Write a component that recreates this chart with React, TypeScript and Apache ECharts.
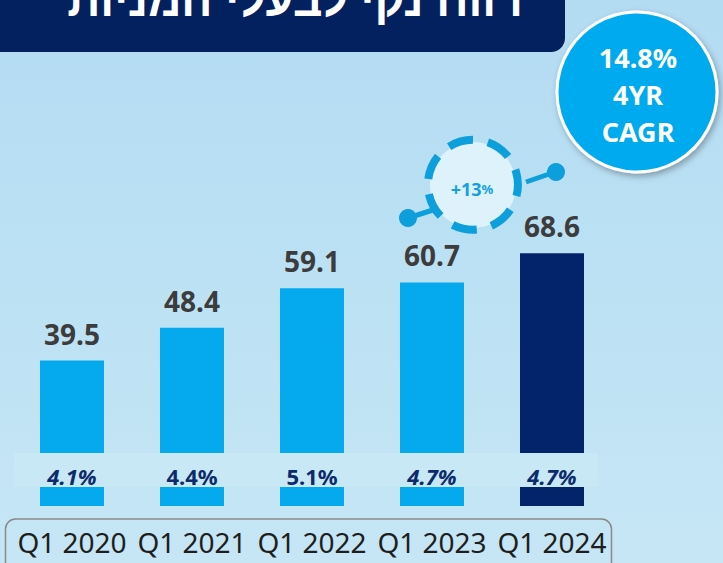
import React, { useEffect, useRef } from "react";
import * as echarts from "echarts";

const categories = ["Q1 2020", "Q1 2021", "Q1 2022", "Q1 2023", "Q1 2024"];
const netProfit = [39.5, 48.4, 59.1, 60.7, 68.6];
const roeLabels = ["4.1%", "4.4%", "5.1%", "4.7%", "4.7%"];
const roeItalic = [true, false, false, true, true];
const highlightIndex = 4;
const titleText = "רווח נקי לבעלי המניות";
const cagrLines = ["14.8%", "4YR", "CAGR"];
const growthLabel = "+13";

const LIGHT = "#05aaee";
const NAVY = "#03236a";
const FONT = "'Noto Sans', 'DejaVu Sans', sans-serif";

export default function App() {
  const ref = useRef<HTMLDivElement>(null);
  useEffect(() => {
    if (!ref.current) return;
    const chart = echarts.init(ref.current, null, { renderer: "svg" });
    chart.setOption({
      animation: false,
      grid: { left: 12, right: 111, top: 64, bottom: 57 },
      xAxis: {
        type: "category",
        data: categories,
        axisLine: { show: false },
        axisTick: { show: false },
        axisLabel: {
          interval: 0,
          hideOverlap: false,
          fontSize: 28,
          color: "#1e1e1e",
          fontFamily: FONT,
          margin: 22,
        },
      },
      yAxis: { type: "value", min: 0, max: 120, show: false, splitLine: { show: false } },
      series: [
        {
          type: "bar",
          barWidth: 64,
          z: 2,
          data: netProfit.map((v, i) => ({
            value: v,
            itemStyle: { color: i === highlightIndex ? NAVY : LIGHT },
          })),
          label: {
            show: true,
            position: "top",
            distance: 13,
            fontSize: 28,
            fontWeight: "bold",
            color: "#3c3c3c",
            fontFamily: FONT,
          },
        },
        {
          type: "custom",
          z: 200,
          data: roeLabels.map((_, i) => [i, 0]),
          renderItem: (params: any, api: any) => {
            const i = params.dataIndex;
            const p = api.coord([api.value(0), 0]);
            return {
              type: "text",
              z2: 100,
              x: p[0],
              y: p[1] - 30,
              style: {
                text: roeLabels[i],
                fontSize: 22,
                fontWeight: "bold",
                fontStyle: roeItalic[i] ? "italic" : "normal",
                fontFamily: FONT,
                fill: "#0c2b6c",
                align: "center",
                verticalAlign: "middle",
              },
            };
          },
        },
      ],
      graphic: [
        {
          type: "rect",
          z: 100,
          shape: { x: 14, y: 453, width: 584, height: 34 },
          style: { fill: "#c9e8f6" },
        },
        {
          type: "rect",
          z: 100,
          shape: { x: 5.5, y: 519, width: 606, height: 70, r: 10 },
          style: { fill: "rgba(0,0,0,0)", stroke: "#8a8a8a", lineWidth: 1.5 },
        },
        {
          type: "rect",
          z: 100,
          shape: { x: -20, y: -30, width: 585, height: 82, r: 14 },
          style: { fill: "#03215f" },
        },
        {
          type: "text",
          z: 101,
          style: {
            text: titleText,
            x: 295,
            y: 0,
            align: "center",
            verticalAlign: "middle",
            fontSize: 46,
            fontWeight: "bold",
            fontFamily: "'Liberation Sans', 'DejaVu Sans', sans-serif",
            fill: "#ffffff",
          },
        },
        {
          type: "circle",
          z: 100,
          shape: { cx: 637, cy: 92, r: 80 },
          style: {
            fill: "#05aaee",
            stroke: "#ffffff",
            lineWidth: 3,
            shadowBlur: 6,
            shadowOffsetY: 3,
            shadowOffsetX: 2,
            shadowColor: "rgba(0,0,0,0.3)",
          },
        },
        ...cagrLines.map((t, i) => ({
          type: "text",
          z: 101,
          style: {
            text: t,
            x: 638,
            y: 57 + i * 37,
            align: "center",
            verticalAlign: "middle",
            fontSize: 27,
            fontWeight: "bold",
            fontFamily: FONT,
            fill: "#ffffff",
          },
        })),
        {
          type: "line",
          z: 100,
          shape: { x1: 408, y1: 218, x2: 436, y2: 209 },
          style: { stroke: "#0d9fdc", lineWidth: 5 },
        },
        {
          type: "line",
          z: 100,
          shape: { x1: 526, y1: 182, x2: 555, y2: 172 },
          style: { stroke: "#0d9fdc", lineWidth: 5 },
        },
        { type: "circle", z: 100, shape: { cx: 408, cy: 218, r: 9 }, style: { fill: "#0d9fdc" } },
        { type: "circle", z: 100, shape: { cx: 556, cy: 172, r: 9 }, style: { fill: "#0d9fdc" } },
        {
          type: "circle",
          z: 101,
          shape: { cx: 473, cy: 185, r: 43 },
          style: { fill: "#ddf2fb" },
        },
        {
          type: "circle",
          z: 102,
          rotation: 0.3,
          originX: 473,
          originY: 185,
          shape: { cx: 473, cy: 185, r: 45 },
          style: { fill: "rgba(0,0,0,0)", stroke: "#0d9fdc", lineWidth: 8, lineDash: [25, 15] },
        },
        {
          type: "text",
          z: 103,
          style: {
            text: `{a|${growthLabel}}{b|%}`,
            x: 472,
            y: 189,
            align: "center",
            verticalAlign: "middle",
            rich: {
              a: { fontSize: 18, fontWeight: "bold", fill: "#15a0e0", color: "#15a0e0", fontFamily: FONT },
              b: { fontSize: 13, fontWeight: "bold", fill: "#15a0e0", color: "#15a0e0", fontFamily: FONT },
            },
          },
        },
      ],
    });
    return () => chart.dispose();
  }, []);
  return (
    <div
      ref={ref}
      style={{
        position: "fixed",
        left: 0,
        top: 0,
        width: 723,
        height: 563,
        background: "linear-gradient(180deg, #b3dbf2 0%, #bde2f4 55%, #c6e6f5 100%)",
      }}
    />
  );
}
